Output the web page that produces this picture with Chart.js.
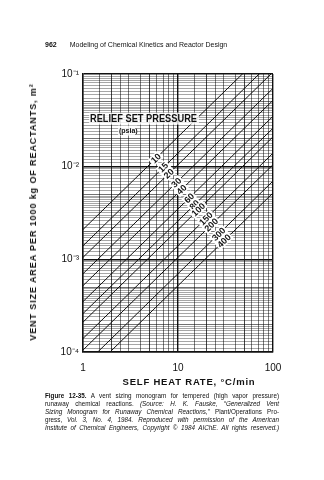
<!DOCTYPE html>
<html>
<head>
<meta charset="UTF-8">
<title>Vent sizing nomogram</title>
<script src="https://cdn.jsdelivr.net/npm/chart.js"></script>
<style>
body{margin:0;width:324px;height:480px;background:#fff;position:relative;overflow:hidden;font-family:"Liberation Sans",Arial,sans-serif;color:#111;}
#wrap{position:absolute;left:0;top:0;width:324px;height:480px;}
.t{position:absolute;white-space:nowrap;}
#head{left:45px;top:41px;font-size:7px;}
#head b{margin-right:13px;}
#ytitle{left:33px;top:212px;font-size:9px;font-weight:bold;letter-spacing:0.9px;transform:translate(-50%,-50%) rotate(-90deg);}
#xtitle{left:189px;top:376px;font-size:9.5px;font-weight:bold;letter-spacing:0.8px;transform:translateX(-50%);}
#cap{position:absolute;left:45px;top:392px;width:234px;font-size:6.3px;line-height:8px;}
#cap div{text-align:justify;text-align-last:justify;white-space:nowrap;}
</style>
</head>
<body>
<div id="wrap"><canvas id="myChart" width="324" height="480"></canvas></div>
<div class="t" id="head"><b>962</b>Modeling of Chemical Kinetics and Reactor Design</div>
<div class="t" id="ytitle">VENT SIZE AREA PER 1000 kg OF REACTANTS, m²</div>
<div class="t" id="xtitle">SELF HEAT RATE, °C/min</div>
<div id="cap">
<div><b>Figure 12-35.</b> A vent sizing monogram for tempered (high vapor pressure)</div>
<div>runaway chemical reactions. <i>(Source: H. K. Fauske, “Generalized Vent</i></div>
<div><i>Sizing Monogram for Runaway Chemical Reactions,”</i> Plant/Operations Pro-</div>
<div>gress, <i>Vol. 3, No. 4, 1984. Reproduced with permission of the American</i></div>
<div><i>Institute of Chemical Engineers, Copyright © 1984 AIChE. All rights reserved.)</i></div>
</div>
<script>
// relief set pressure lines (psia): vent area per 1000 kg at 1 and at 100 °C/min
var pressures  = ['10','15','20','30','40','60','80','100','150','200','300','400'];
var areaAt1    = [2.1e-3,1.4e-3,1.05e-3,7.0e-4,5.2e-4,3.5e-4,2.6e-4,2.1e-4,1.4e-4,1.05e-4,7.0e-5,5.2e-5];
var areaAt100  = [2.1e-1,1.4e-1,1.05e-1,7.0e-2,5.2e-2,3.5e-2,2.6e-2,2.1e-2,1.4e-2,1.05e-2,7.0e-3,5.2e-3];
// self heat rate where each pressure label sits on its line
var labelRate  = [5.85,7.0,8.0,9.6,10.9,13.1,14.9,16.4,19.7,22.4,26.8,30.5];

// axes
var xMin = 1, xMax = 100;
var yMin = 1e-4, yMax = 1e-1;
var xTickValues = [1,10,100];
var xTickLabels = ['1','10','100'];
var yTickValues = [1e-4,1e-3,1e-2,1e-1];
var yTickLabels = ['10⁻⁴','10⁻³','10⁻²','10⁻¹'];
var xGridSteps = [1,1.5,2,2.5,3,4,5,6,7,8,9];
var yGridSteps = [1,1.1,1.2,1.3,1.4,1.5,1.6,1.7,1.8,1.9,2,2.2,2.4,2.6,2.8,3,3.2,3.4,3.6,3.8,4,4.2,4.4,4.6,4.8,5,5.5,6,6.5,7,7.5,8,8.5,9,9.5];

function gridTicks(lo, hi, steps){
  var out = [];
  for (var d = lo; d < hi*0.999; d *= 10) {
    steps.forEach(function(s){ out.push({value: +(d*s).toPrecision(4)}); });
  }
  out.push({value: hi});
  return out;
}
function isMajor(v, list){
  return list.some(function(t){ return Math.abs(v/t - 1) < 1e-6; });
}
function mantissa(v){
  return +(v / Math.pow(10, Math.floor(Math.log10(v) + 1e-9))).toFixed(2);
}

var datasets = pressures.map(function(p, i){
  return {
    label: p,
    data: [{x: xMin, y: areaAt1[i]}, {x: xMax, y: areaAt100[i]}],
    borderColor: '#111',
    borderWidth: 1,
    pointRadius: 0,
    tension: 0
  };
});

var pressureLabels = {
  id: 'pressureLabels',
  afterDatasetsDraw: function(chart){
    var ctx = chart.ctx, xs = chart.scales.x, ys = chart.scales.y;
    ctx.save();
    ctx.font = 'bold 9px "Liberation Sans", Arial, sans-serif';
    ctx.textAlign = 'center';
    ctx.textBaseline = 'middle';
    pressures.forEach(function(p, i){
      var r = labelRate[i];
      var a = areaAt1[i] * Math.pow(areaAt100[i]/areaAt1[i], Math.log10(r)/2);
      var px = xs.getPixelForValue(r), py = ys.getPixelForValue(a);
      var ang = Math.atan2(ys.getPixelForValue(areaAt100[i]) - ys.getPixelForValue(areaAt1[i]),
                           xs.getPixelForValue(xMax) - xs.getPixelForValue(xMin));
      ctx.save();
      ctx.translate(px, py);
      ctx.rotate(ang);
      var w = ctx.measureText(p).width;
      ctx.fillStyle = '#fff';
      ctx.fillRect(-w/2 - 1.5, -4.5, w + 3, 9);
      ctx.fillStyle = '#111';
      ctx.fillText(p, 0, 0.5);
      ctx.restore();
    });
    // title text inside the plot
    var ty = ys.getPixelForValue(3.3e-2), py2 = ys.getPixelForValue(2.45e-2);
    ctx.textAlign = 'left';
    ctx.font = 'bold 10px "Liberation Sans", Arial, sans-serif';
    var tw = ctx.measureText('RELIEF SET PRESSURE').width;
    ctx.fillStyle = 'rgba(255,255,255,0.8)';
    ctx.fillRect(89, ty - 6, 110, 12);
    ctx.fillRect(118, py2 - 5, 19, 10);
    ctx.fillStyle = '#111';
    ctx.save();
    ctx.translate(90, ty);
    ctx.scale(107 / tw, 1);
    ctx.fillText('RELIEF SET PRESSURE', 0, 0.5);
    ctx.restore();
    ctx.font = 'bold 7px "Liberation Sans", Arial, sans-serif';
    ctx.fillText('(psia)', 119, py2 + 0.5);
    ctx.restore();
  }
};

var ctx = document.getElementById('myChart');
new Chart(ctx, {
  type: 'line',
  data: { datasets: datasets },
  plugins: [pressureLabels],
  options: {
    responsive: false,
    animation: false,
    layout: { padding: { left: 0, top: 74, right: 51, bottom: 98 } },
    plugins: { legend: { display: false }, tooltip: { enabled: false } },
    scales: {
      x: {
        type: 'logarithmic', min: xMin, max: xMax,
        afterBuildTicks: function(s){ s.ticks = gridTicks(xMin, xMax, xGridSteps); },
        afterFit: function(s){ s.height = 30; },
        ticks: {
          autoSkip: false, maxRotation: 0, padding: 10,
          color: '#111', font: { size: 10, family: 'Liberation Sans' },
          callback: function(v){ var i = xTickValues.findIndex(function(t){ return Math.abs(v/t-1) < 1e-6; }); return i < 0 ? '' : xTickLabels[i]; }
        },
        grid: {
          drawTicks: false,
          color: function(c){ return isMajor(c.tick.value, xTickValues) ? '#111' : '#444'; },
          lineWidth: function(c){
            if (isMajor(c.tick.value, xTickValues)) return 1.4;
            var m = mantissa(c.tick.value);
            return (m === 2 || m === 5) ? 1 : 0.7;
          }
        },
        border: { color: '#111', width: 1.4 }
      },
      y: {
        type: 'logarithmic', min: yMin, max: yMax,
        afterBuildTicks: function(s){ s.ticks = gridTicks(yMin, yMax, yGridSteps); },
        afterFit: function(s){ s.width = 83; },
        ticks: {
          autoSkip: false, padding: 4,
          color: '#111', font: { size: 10, family: 'Liberation Sans' },
          callback: function(v){ var i = yTickValues.findIndex(function(t){ return Math.abs(v/t-1) < 1e-6; }); return i < 0 ? '' : yTickLabels[i]; }
        },
        grid: {
          drawTicks: false,
          color: function(c){
            if (isMajor(c.tick.value, yTickValues)) return '#111';
            var m = mantissa(c.tick.value);
            return (m === 2 || m === 5) ? 'rgba(0,0,0,0.8)' : 'rgba(0,0,0,0.5)';
          },
          lineWidth: function(c){ return isMajor(c.tick.value, yTickValues) ? 1.4 : 0.7; }
        },
        border: { color: '#111', width: 1.4 }
      }
    }
  }
});
</script>
</body>
</html>
